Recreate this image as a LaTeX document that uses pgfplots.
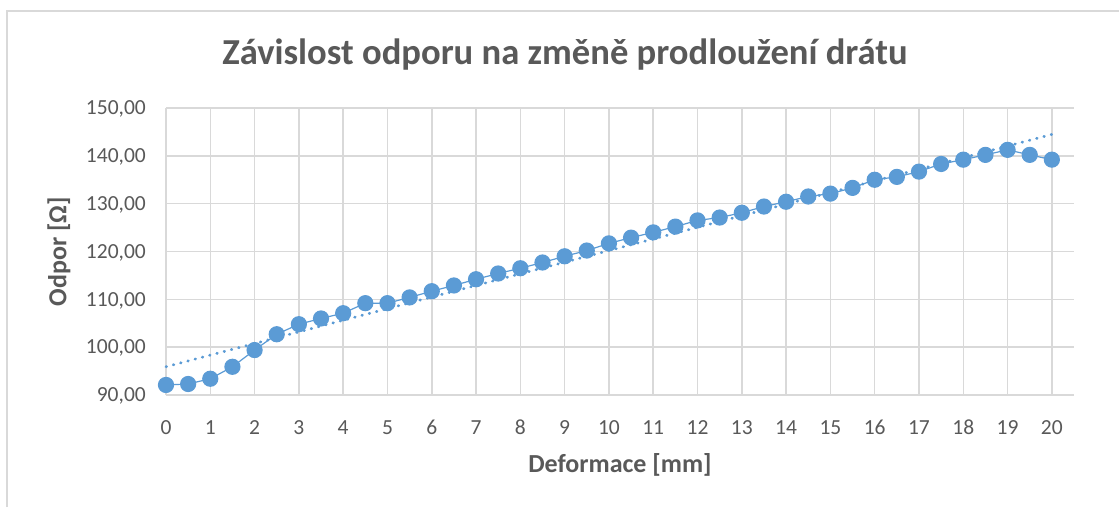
\documentclass[border=0pt]{standalone}
\usepackage{pgfplots}
\usepackage{pgfplotstable}
\pgfplotsset{compat=1.18}
\usepackage{fontspec}
\setmainfont{Carlito}
\definecolor{txt}{HTML}{595959}
\definecolor{grd}{HTML}{D9D9D9}
\definecolor{blu}{HTML}{5B9BD5}
\definecolor{frm}{HTML}{D9D9D9}

\pgfplotstableread{
x y
0 92.1
0.5 92.3
1 93.4
1.5 95.9
2 99.4
2.5 102.7
3 104.8
3.5 106.0
4 107.1
4.5 109.2
5 109.2
5.5 110.4
6 111.7
6.5 112.9
7 114.2
7.5 115.4
8 116.5
8.5 117.7
9 119.0
9.5 120.2
10 121.7
10.5 122.9
11 124.0
11.5 125.2
12 126.5
12.5 127.1
13 128.1
13.5 129.4
14 130.4
14.5 131.5
15 132.1
15.5 133.3
16 135.0
16.5 135.6
17 136.7
17.5 138.3
18 139.2
18.5 140.2
19 141.25
19.5 140.2
20 139.2
}\datatable

\begin{document}
\begin{tikzpicture}[x=1pt,y=1pt]
\useasboundingbox (0,0) rectangle (1119,507);
\fill[white] (0,0) rectangle (1119,507);
\draw[frm, line width=1.5pt] (7,0) -- (7,496) -- (1119,496);
\node[font=\fontsize{36.6}{42}\selectfont\bfseries, text=txt] at (565,452) {Závislost odporu na změně prodloužení drátu};
\begin{axis}[
  at={(166pt,112pt)}, anchor=south west,
  scale only axis, width=908pt, height=287pt,
  xmin=0, xmax=20.5, ymin=90, ymax=150,
  xtick={0,1,...,20}, ytick={90,100,...,150},
  grid=major,
  major grid style={grd, line width=1.5pt},
  axis line style={draw=none},
  tick style={draw=none},
  /pgf/number format/assume math mode=true,
  yticklabel style={/pgf/number format/fixed, /pgf/number format/fixed zerofill, /pgf/number format/precision=2, /pgf/number format/use comma, /pgf/number format/1000 sep={}},
  tick label style={font=\fontsize{21.5}{24}\selectfont, text=txt, inner sep=0pt},
  xticklabel style={anchor=base, yshift=-39pt},
  yticklabel style={anchor=base east, xshift=-20pt, yshift=-6.7pt},
  xlabel={\textbf{Deformace [mm]}},
  ylabel={\textbf{Odpor [Ω]}},
  label style={font=\fontsize{26}{30}\selectfont, text=txt},
  xlabel style={at={(axis description cs:0.5,-0.2439)}, anchor=center},
  ylabel style={at={(axis description cs:-0.1178,0.5)}, anchor=center},
  clip=false,
]
\addplot[blu, line width=1.2pt, mark=*, mark size=7.5pt, mark options={fill=blu, draw=blu}] table[x=x,y=y] {\datatable};
\addplot[blu, line width=2.8pt, line cap=round, dash pattern=on 0.6pt off 6.9pt, no marks] table[x=x, y={create col/linear regression={y=y}}] {\datatable};
\end{axis}
\end{tikzpicture}
\end{document}
